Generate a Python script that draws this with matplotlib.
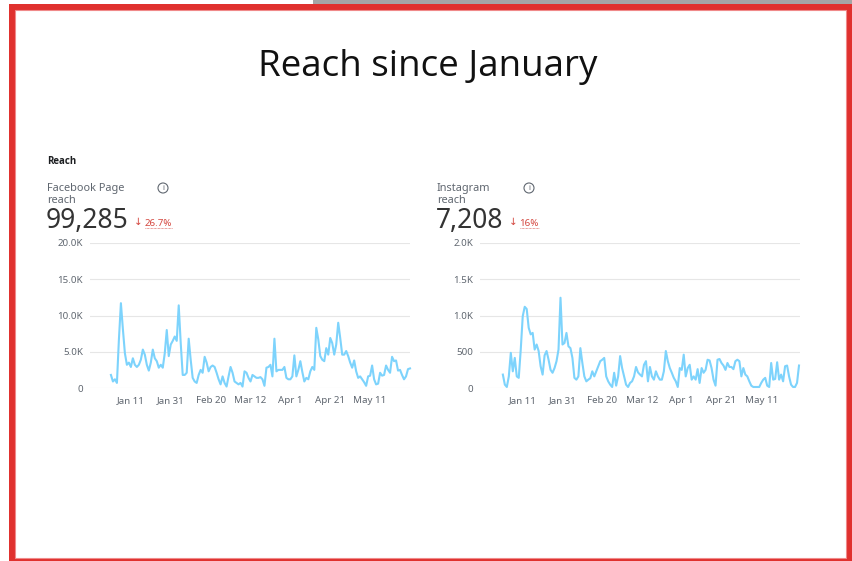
import matplotlib.pyplot as plt
from matplotlib.patches import Rectangle, Circle
import numpy as np

# daily reach, Jan 1 .. May 31
facebook_reach = [
    1800, 900, 1200, 700, 6700, 11700, 8100, 4800, 3200, 3500, 2900, 4100, 3200,
    2900, 3200, 3900, 5300, 4600, 3200, 2400, 3500, 5300, 4100, 3700, 2800, 3200,
    2800, 4800, 8000, 4400, 6000, 6500, 7100, 6500, 11400, 6200, 1800, 1800, 2100,
    6800, 3900, 1400, 900, 700, 1800, 2500, 2100, 4300, 3500, 2300, 2900, 3100,
    2900, 2100, 1200, 500, 1600, 700, 200, 1600, 2900, 2100, 900, 700, 500, 700,
    200, 2300, 2100, 1400, 900, 1800, 1600, 1400, 1400, 1500, 1200, 300, 2800,
    2900, 3200, 1600, 6800, 2300, 2500, 2500, 2500, 2900, 1400, 1200, 1200, 1600,
    4500, 1600, 2500, 3700, 2200, 900, 1400, 1200, 2300, 2900, 2500, 8300, 6700,
    4400, 3900, 3700, 5500, 4600, 6900, 6200, 4600, 6000, 9000, 6900, 4600, 4600,
    5100, 4400, 3500, 2800, 3800, 2300, 1400, 1600, 1200, 800, 300, 1600, 1700,
    3100, 1200, 500, 600, 2100, 1700, 1800, 3100, 2500, 2100, 4300, 3700, 3800,
    2400, 2500, 1800, 1200, 1600, 2600, 2700,
]
instagram_reach = [
    185, 46, 14, 160, 485, 230, 415, 160, 140, 530, 990, 1120, 1090, 830, 740,
    760, 530, 600, 510, 300, 185, 450, 510, 390, 250, 210, 275, 370, 530, 1245,
    600, 620, 760, 575, 550, 415, 140, 115, 160, 550, 345, 160, 92, 115, 135, 230,
    160, 230, 300, 370, 390, 415, 160, 92, 46, 14, 210, 32, 160, 440, 275, 160,
    46, 14, 70, 92, 160, 290, 215, 185, 160, 320, 370, 92, 290, 160, 115, 230,
    160, 115, 115, 230, 510, 370, 275, 210, 140, 92, 14, 275, 250, 460, 160, 275,
    320, 115, 160, 115, 260, 70, 275, 210, 250, 390, 380, 275, 115, 32, 390, 400,
    345, 310, 250, 345, 290, 290, 260, 370, 390, 370, 160, 275, 185, 160, 92, 32,
    14, 14, 14, 14, 70, 115, 140, 32, 14, 345, 115, 125, 355, 115, 185, 92, 300,
    310, 160, 46, 14, 14, 70, 310,
]
date_ticks = [10, 30, 50, 70, 90, 110, 130]
date_labels = ["Jan 11", "Jan 31", "Feb 20", "Mar 12", "Apr 1", "Apr 21", "May 11"]

fb_ticks = [0, 5000, 10000, 15000, 20000]
fb_tick_labels = ["0", "5.0K", "10.0K", "15.0K", "20.0K"]
ig_ticks = [0, 500, 1000, 1500, 2000]
ig_tick_labels = ["0", "500", "1.0K", "1.5K", "2.0K"]

W, H = 852, 561
fig = plt.figure(figsize=(W / 100, H / 100), dpi=100)
plt.rcParams["font.family"] = ["Noto Sans", "DejaVu Sans"]


def fx(x):
    return x / W


def fy(y):
    return 1 - y / H


# frame: gray strip on top, red border (behind the axes)
fig.add_artist(Rectangle((313 / W, fy(4)), (W - 313) / W, 4 / H,
                         transform=fig.transFigure, color="#a5a5a5", lw=0,
                         zorder=-10))
fig.add_artist(Rectangle((fx(9), 0), (W - 9) / W, fy(4),
                         transform=fig.transFigure, color="#e0312e", lw=0,
                         zorder=-10))
fig.add_artist(Rectangle((fx(15), fy(558)), (846 - 15) / W, (558 - 10) / H,
                         transform=fig.transFigure, facecolor="white",
                         edgecolor="#f08a8a", lw=0.8, zorder=-9))

fig.text(fx(428), fy(67), "Reach since January", ha="center", va="center",
         fontsize=26.5, family="Open Sans", color="#111111")

fig.text(fx(47), fy(161), "Reach", ha="left", va="center", fontsize=7,
         fontweight="bold", family="Open Sans", color="#1c1e21")

line_color = "#7dd3fc"
grid_color = "#e6e6e6"
text_gray = "#606770"


def panel(left, data, yticks, ylabels, name, total, change, cx, xlim):
    ax = fig.add_axes([fx(left), fy(388), 320 / W, 145 / H])
    x = np.arange(len(data))
    ax.plot(x, data, color=line_color, lw=1.5, clip_on=False)
    ax.set_xlim(*xlim)
    ax.set_ylim(yticks[0], yticks[-1])
    ax.set_yticks(yticks)
    ax.set_yticklabels(ylabels)
    ax.set_xticks(date_ticks)
    ax.set_xticklabels(date_labels)
    ax.tick_params(length=0, labelsize=7, colors=text_gray)
    ax.tick_params(axis="y", pad=5)
    ax.tick_params(axis="x", pad=6)
    for s in ax.spines.values():
        s.set_visible(False)
    ax.grid(axis="y", color=grid_color, lw=0.8)
    ax.set_axisbelow(True)

    base = left - 43
    fig.text(fx(base), fy(188), name, ha="left", va="center",
             fontsize=7.9, color=text_gray)
    fig.text(fx(base), fy(200.5), "reach", ha="left", va="center",
             fontsize=7.9, color=text_gray)
    fig.add_artist(Circle((cx / 100, (H - 188) / 100), 0.05,
                          transform=fig.dpi_scale_trans, fill=False,
                          edgecolor="#606770", lw=0.8))
    fig.text(fx(cx), fy(188), "i", ha="center", va="center",
             fontsize=5.5, color="#606770")
    t = fig.text(fx(base - 1), fy(221.5), total, ha="left", va="center",
                 fontsize=19, color="#333333")
    fig.canvas.draw()
    bb = t.get_window_extent()
    ax_x = bb.x1 + 5
    fig.text(ax_x / W, fy(222), "↓", ha="left", va="center",
             fontsize=7.5, color="#d4473f", family="DejaVu Sans")
    c = fig.text((ax_x + 11) / W, fy(223), change, ha="left", va="center",
                 fontsize=7, color="#d4473f")
    fig.canvas.draw()
    cb = c.get_window_extent()
    fig.add_artist(plt.Line2D([cb.x0 / W, cb.x1 / W], [fy(228), fy(228)],
                              transform=fig.transFigure, color="#d4473f",
                              lw=0.5, ls=(0, (1, 1))))


panel(90, facebook_reach, fb_ticks, fb_tick_labels, "Facebook Page",
      "99,285", "26.7%", 163, (-10.5, 150))
panel(480, instagram_reach, ig_ticks, ig_tick_labels, "Instagram",
      "7,208", "16%", 529, (-11.5, 149.5))

fig.savefig("out.png", dpi=100)
